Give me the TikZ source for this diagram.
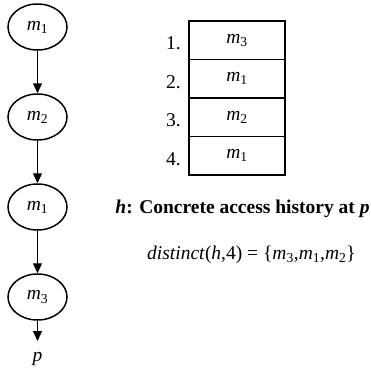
\documentclass[tikz,border=0pt]{standalone}
\usepackage{fontspec}
\setmainfont{Liberation Serif}
\usetikzlibrary{shapes.geometric,arrows.meta}
\newcommand{\mvar}[1]{\textit{m}\textsubscript{#1}}
\begin{document}
\begin{tikzpicture}[x=1pt,y=-1pt,
  every node/.style={font=\fontsize{19.5}{22}\selectfont},
  mem/.style={ellipse,draw,line width=1.5pt,minimum width=59pt,minimum height=46pt,inner sep=0pt},
  cell/.style={draw,line width=1.5pt,minimum width=96pt,minimum height=38.5pt,inner sep=0pt},
  num/.style={anchor=base east,inner sep=0pt},
  flow/.style={line width=1.3pt,-{Triangle[length=10pt,width=9pt]}}]
\useasboundingbox (0,0) rectangle (371,373);
% chain of accesses
\node[mem] (a) at (37.5,27) {\mvar{1}};
\node[mem] (b) at (37.5,117) {\mvar{2}};
\node[mem] (c) at (37.5,207) {\mvar{1}};
\node[mem] (d) at (37.5,297) {\mvar{3}};
\node[anchor=north,inner sep=0pt] (p) at (37.5,352) {\textit{p}};
\draw[flow] (a) -- (b);
\draw[flow] (b) -- (c);
\draw[flow] (c) -- (d);
\draw[flow,shorten >=11pt] (d) -- (p);
% history table
\node[cell] (r1) at (237,40.25) {\mvar{3}};
\node[cell] (r2) at (237,78.75) {\mvar{1}};
\node[cell] (r3) at (237,117.25) {\mvar{2}};
\node[cell] (r4) at (237,155.75) {\mvar{1}};
\node[num] (n1) at (181,49.5) {1.};
\node[num] (n2) at (181,88) {2.};
\node[num] (n3) at (181,126.5) {3.};
\node[num] (n4) at (181,165) {4.};
% captions
\node[anchor=base] (cap) at (242.5,213) {\textbf{\textit{h}: Concrete access history at \textit{p}}};
\node[anchor=base] (dist) at (251.5,259) {\textit{distinct}(\textit{h},4) = \{\mvar{3},\mvar{1},\mvar{2}\}};
\end{tikzpicture}
\end{document}
